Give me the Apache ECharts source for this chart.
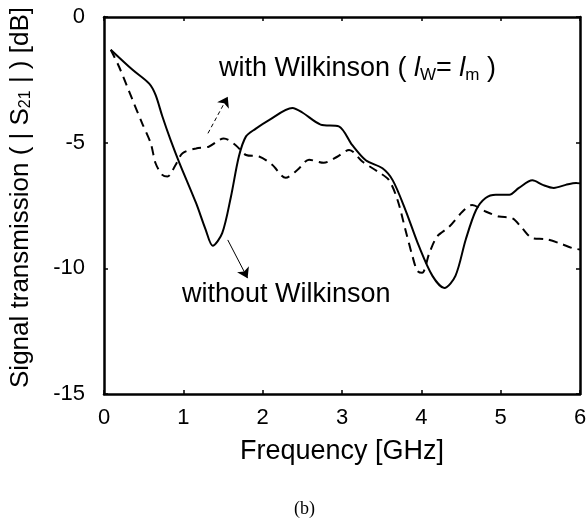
<!DOCTYPE html>
<html>
<head>
<meta charset="utf-8">
<style>
  html, body { margin: 0; padding: 0; background: #fff; }
  #chart { width: 587px; height: 525px; }
</style>
<script src="https://cdn.jsdelivr.net/npm/echarts@6/dist/echarts.min.js"></script>
</head>
<body>
<div id="chart"></div>
<script>
// frequency [GHz], |S21| [dB]
const withoutWilkinson = [
  [0.085, -1.3], [0.36, -2.1], [0.57, -2.65], [0.65, -3.1], [0.735, -3.95],
  [0.84, -4.9], [0.95, -5.8], [1.16, -7.4], [1.28, -8.45], [1.37, -9.1],
  [1.49, -8.6], [1.6, -7.15], [1.7, -5.55], [1.79, -4.75], [1.91, -4.45],
  [2.08, -4.1], [2.375, -3.62], [2.5, -3.8], [2.73, -4.28], [2.96, -4.35],
  [3.13, -5.1], [3.3, -5.7], [3.51, -6.02], [3.64, -6.5], [3.8, -7.68],
  [3.97, -9.12], [4.14, -10.3], [4.29, -10.78], [4.43, -10.3], [4.56, -8.85],
  [4.69, -7.68], [4.81, -7.2], [4.94, -7.07], [5.11, -7.07], [5.23, -6.8],
  [5.4, -6.5], [5.53, -6.68], [5.67, -6.8], [5.82, -6.68], [5.95, -6.6], [6.0, -6.62]
];
const withWilkinson = [
  [0.085, -1.3], [0.19, -1.98], [0.36, -3.3], [0.48, -4.22], [0.59, -5.03],
  [0.65, -5.82], [0.735, -6.28], [0.8, -6.35], [0.9, -5.9], [0.99, -5.42],
  [1.16, -5.23], [1.32, -5.16], [1.51, -4.83], [1.66, -5.1], [1.79, -5.49],
  [1.955, -5.55], [2.12, -5.88], [2.29, -6.4], [2.44, -6.08], [2.585, -5.68],
  [2.77, -5.8], [2.94, -5.56], [3.09, -5.29], [3.26, -5.76], [3.45, -6.15],
  [3.59, -6.48], [3.7, -7.28], [3.8, -8.47], [3.89, -9.54], [3.95, -10.1],
  [4.01, -10.18], [4.1, -9.4], [4.2, -8.73], [4.35, -8.35], [4.52, -7.74],
  [4.64, -7.48], [4.81, -7.74], [4.98, -7.94], [5.15, -8.01], [5.27, -8.4],
  [5.4, -8.8], [5.57, -8.84], [5.74, -9.0], [5.91, -9.2], [6.0, -9.25]
];
// annotation arrows: [from, to] in data units
const arrowWith = [[1.31, -4.63], [1.56, -3.17]];
const arrowWithout = [[1.56, -8.87], [1.81, -10.39]];

const FONT = 'Liberation Sans, Arial, sans-serif';
const chart = echarts.init(document.getElementById('chart'), null, { renderer: 'canvas' });

const baseAxis = {
  axisLine: { show: true, onZero: false, lineStyle: { color: '#000', width: 2.5 } },
  axisTick: { show: true, inside: true, length: 4, lineStyle: { color: '#000', width: 1.5 } },
  splitLine: { show: false }
};

chart.setOption({
  animation: false,
  textStyle: { fontFamily: FONT, color: '#000' },
  grid: { left: 104, right: 7, top: 17, bottom: 131, outerBoundsMode: 'none' },
  xAxis: [
    {
      ...baseAxis,
      type: 'value', min: 0, max: 6, interval: 1,
      axisLabel: { fontSize: 22, color: '#000', margin: 13, fontFamily: FONT },
      name: 'Frequency [GHz]',
      nameLocation: 'middle',
      nameGap: 44,
      nameTextStyle: { fontSize: 27, color: '#000', fontFamily: FONT }
    },
    {
      ...baseAxis,
      type: 'value', min: 0, max: 6, interval: 1, position: 'top',
      axisLabel: { show: false }
    }
  ],
  yAxis: [
    {
      ...baseAxis,
      type: 'value', min: -15, max: 0, interval: 5,
      axisLabel: { fontSize: 22, color: '#000', margin: 19, fontFamily: FONT },
      name: 'Signal transmission ( | S{sub|21} | ) [dB]',
      nameLocation: 'middle',
      nameGap: 70,
      nameTextStyle: {
        fontSize: 26, color: '#000', fontFamily: FONT,
        padding: [0, 0, 0, 16],
        rich: {
          sub: { fontSize: 16, fontFamily: FONT, color: '#000', verticalAlign: 'bottom', lineHeight: 16 }
        }
      }
    },
    {
      ...baseAxis,
      type: 'value', min: -15, max: 0, interval: 5, position: 'right',
      axisLabel: { show: false }
    }
  ],
  series: [
    {
      name: 'without Wilkinson',
      type: 'line',
      data: withoutWilkinson,
      smooth: 0.3,
      symbol: 'none',
      lineStyle: { color: '#000', width: 2 },
      markLine: {
        silent: true,
        symbol: ['none', 'arrow'],
        symbolSize: 10,
        label: { show: false },
        lineStyle: { color: '#000', width: 1, type: 'solid' },
        data: [[{ coord: arrowWithout[0] }, { coord: arrowWithout[1] }]]
      }
    },
    {
      name: 'with Wilkinson',
      type: 'line',
      data: withWilkinson,
      smooth: 0.3,
      symbol: 'none',
      lineStyle: { color: '#000', width: 2, type: [9, 6] },
      markLine: {
        silent: true,
        symbol: ['none', 'arrow'],
        symbolSize: 10,
        label: { show: false },
        lineStyle: { color: '#000', width: 1, type: [4, 3] },
        data: [[{ coord: arrowWith[0] }, { coord: arrowWith[1] }]]
      }
    }
  ],
  graphic: [
    {
      type: 'text',
      left: 219, top: 55,
      style: {
        text: 'with Wilkinson ( {it|l}{sub|W}= {it|l}{sub|m} )',
        font: '27px ' + FONT,
        fill: '#000',
        rich: {
          it: { fontSize: 27, fontStyle: 'italic', fontFamily: FONT, color: '#000', lineHeight: 31 },
          sub: { fontSize: 17, fontFamily: FONT, color: '#000', verticalAlign: 'bottom', lineHeight: 17 }
        }
      }
    },
    {
      type: 'text',
      left: 182, top: 281,
      style: { text: 'without Wilkinson', font: '27px ' + FONT, fill: '#000' }
    },
    {
      type: 'text',
      left: 294, top: 500,
      style: { text: '(b)', font: '18px Liberation Serif, serif', fill: '#000' }
    }
  ]
});
</script>
</body>
</html>
